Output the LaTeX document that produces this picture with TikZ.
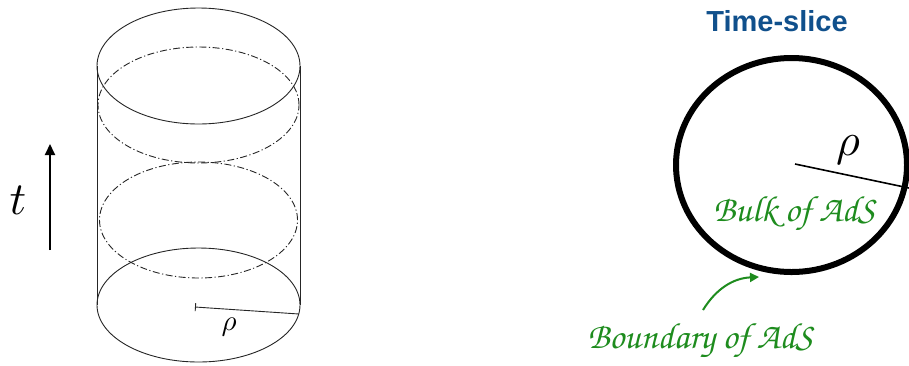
\RequirePackage{fix-cm}
\documentclass[tikz,border=0pt]{standalone}
\usepackage{fontspec}
\newfontfamily\headfont{Liberation Sans}
\usetikzlibrary{arrows.meta}
\definecolor{titleblue}{RGB}{16,80,140}
\definecolor{adsgreen}{RGB}{30,140,30}
\tikzset{
  cyl/.style={line width=0.9pt, draw=black!85},
  dashdot/.style={cyl, dash pattern=on 7pt off 2.5pt on 1.2pt off 2.5pt},
  greentext/.style={text=adsgreen, font=\fontsize{36.5}{38}\usefont{T1}{pzc}{m}{it}},
}
\begin{document}
\begin{tikzpicture}[x=1pt,y=-1pt]
\useasboundingbox (0,0) rectangle (909,365);
% cylinder
\draw[cyl] (198.5,66) ellipse [x radius=101.5pt, y radius=58pt];
\draw[dashdot] (198.5,105) ellipse [x radius=100.5pt, y radius=58pt];
\draw[dashdot] (198.5,220) ellipse [x radius=99pt, y radius=58pt];
\draw[cyl] (198.5,305) ellipse [x radius=101.5pt, y radius=57pt];
\coordinate (tl) at (97,66);
\coordinate (bl) at (97,305);
\coordinate (tr) at (300,66);
\coordinate (br) at (300,305);
\draw[cyl] (tl) -- (bl);
\draw[cyl] (tr) -- (br);
\coordinate (c0) at (195,307);
\coordinate (c1) at (299,314);
\draw[cyl, {Bar[width=8pt]}-] (c0) -- (c1);
\node[scale=2.9] (rho1) at (229,327) {$\rho$};
% time arrow
\coordinate (ta) at (50,250);
\coordinate (tb) at (50,144);
\draw[line width=2pt, -{Triangle[length=11pt,width=10pt]}] (ta) -- (tb);
\node[scale=4.6] (t) at (18,200) {$t$};
% time slice
\node (title) at (777,21) {\headfont\bfseries\color{titleblue}\fontsize{29}{30}\selectfont Time-slice};
\draw[line width=6pt] (791.5,165) ellipse [x radius=115.5pt, y radius=107pt];
\coordinate (r0) at (795,164);
\coordinate (r1) at (909,188);
\draw[line width=1.6pt] (r0) -- (r1);
\node[scale=4.6] (rho2) at (848,150) {$\rho$};
\node[greentext] (bulk) at (794,214) {Bulk of AdS};
\node[greentext] (bdry) at (700,341) {Boundary of AdS};
\coordinate (a0) at (703,310);
\coordinate (a1) at (759,277);
\draw[adsgreen, line width=2pt, -{Triangle[length=9pt,width=9pt]}] (a0) to[bend left=28] (a1);
\end{tikzpicture}
\end{document}
